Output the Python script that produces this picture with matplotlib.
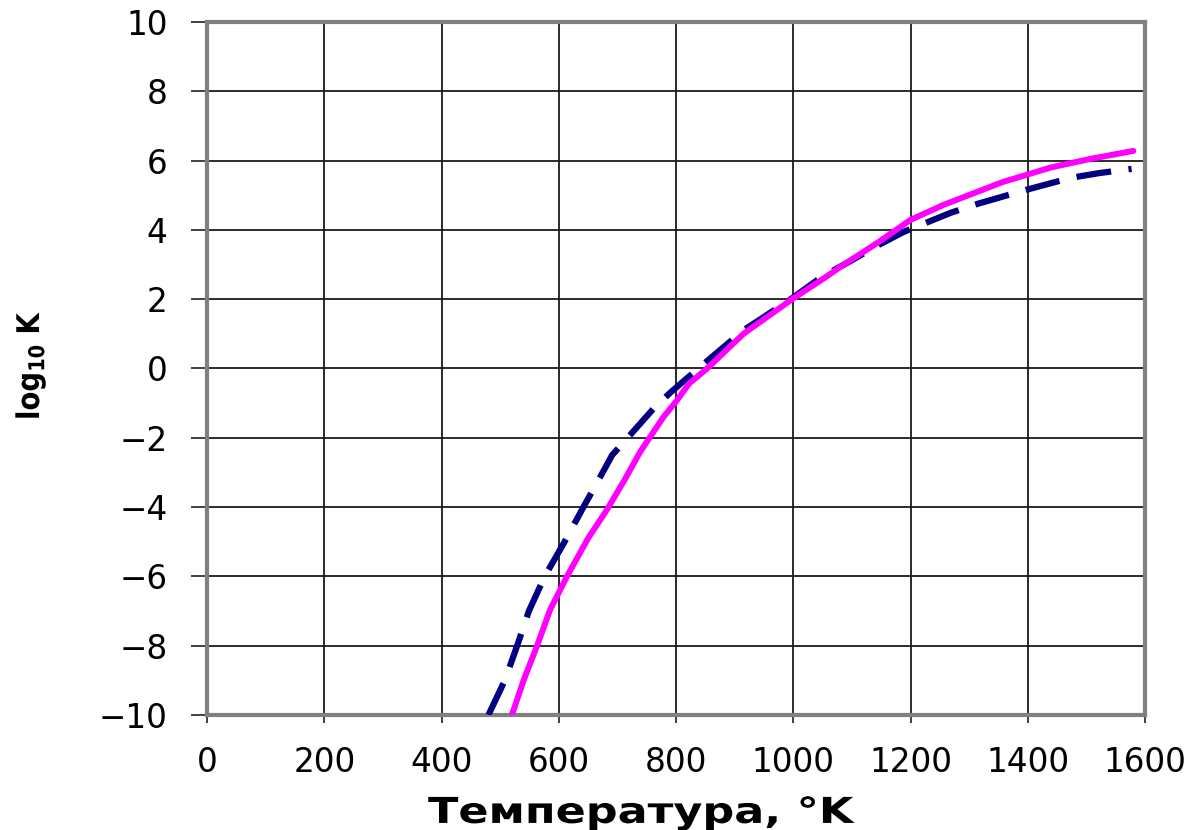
import matplotlib
matplotlib.use("Agg")
import matplotlib.pyplot as plt
from matplotlib.patheffects import AbstractPathEffect
from matplotlib.transforms import Affine2D

plt.rcParams['font.family'] = ['DejaVu Sans']
plt.rcParams['axes.unicode_minus'] = True

# Equilibrium constant vs temperature
temp_solid = [520, 540, 563, 585, 614, 650, 682, 712, 739, 756, 779, 802, 822,
              853, 915, 998, 1052, 1080, 1143, 1200, 1256, 1357, 1439, 1507, 1580]
logk_solid = [-10, -9, -8, -6.97, -6, -4.9, -4.08, -3.22, -2.4, -1.97, -1.39, -0.91, -0.44,
              0.0, 1.0, 2.0, 2.6, 2.93, 3.62, 4.29, 4.72, 5.38, 5.8, 6.05, 6.28]

temp_dashed = [480, 508, 529, 549, 576, 610, 642, 671, 691, 719, 762, 790, 838,
               887, 915, 969, 1000, 1049, 1091, 1145, 1188, 1268, 1314, 1396,
               1473, 1522, 1577]
logk_dashed = [-10, -9, -8, -7, -6, -5, -4, -3.12, -2.5, -1.97, -1.15, -0.7, 0.0,
               0.7, 1.1, 1.7, 2.05, 2.65, 3.04, 3.56, 3.94, 4.49, 4.75, 5.15,
               5.5, 5.64, 5.76]

x_ticks = [0, 200, 400, 600, 800, 1000, 1200, 1400, 1600]
y_ticks = [-10, -8, -6, -4, -2, 0, 2, 4, 6, 8, 10]


class Stretch(AbstractPathEffect):
    """Scale glyph outlines along the text's own baseline direction."""

    def __init__(self, sx):
        super().__init__()
        self.sx = sx

    def draw_path(self, renderer, gc, tpath, affine, rgbFace=None):
        renderer.draw_path(gc, tpath, Affine2D().scale(self.sx, 1.0) + affine, rgbFace)


fig = plt.figure(figsize=(11.94, 8.30), dpi=100)
ax = fig.add_axes([0.1734, 0.1386, 0.9590 - 0.1734, 0.9735 - 0.1386])

ax.plot(temp_dashed, logk_dashed, color='#000080', lw=4.5,
        linestyle=(0, (5.6, 2.8)), zorder=3)
ax.plot(temp_solid, logk_solid, color='#FF00FF', lw=4.3,
        solid_capstyle='round', solid_joinstyle='round', zorder=4)

ax.set_xlim(0, 1600)
ax.set_ylim(-10, 10)
ax.set_xticks(x_ticks)
ax.set_yticks(y_ticks)
ax.grid(True, color='#1a1a1a', lw=1.3)
ax.set_axisbelow(True)

for s in ax.spines.values():
    s.set_color('#808080')
    s.set_linewidth(3)

ax.tick_params(axis='y', direction='out', length=11.5, width=1.3,
               color='#333333', pad=17, labelsize=23.5)
ax.tick_params(axis='x', direction='out', length=6, width=1.3,
               color='#333333', pad=16, labelsize=23.5)

xl = ax.set_xlabel('Температура, °K', fontsize=25.7, fontweight='bold',
                   ha='left', va='baseline')
ax.xaxis.set_label_coords(0.2356, -0.1558)
xl.set_path_effects([Stretch(1.246)])

yl = ax.set_ylabel(r'log$_{\mathbf{10}}$ K', fontsize=22.5, fontweight='bold',
                   ha='left', va='baseline', rotation_mode='anchor')
ax.yaxis.set_label_coords(-0.1791, 0.4257)
yl.set_path_effects([Stretch(0.88)])

fig.savefig('out.png', dpi=100)
